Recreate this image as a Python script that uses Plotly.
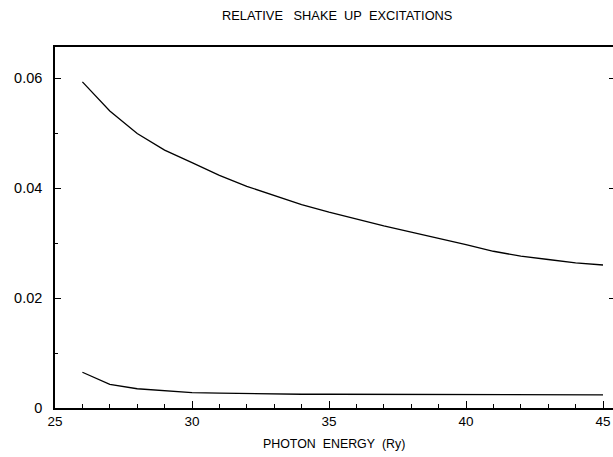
import plotly.graph_objects as go

energy = [26, 27, 28, 29, 30, 31, 32, 33, 34, 35, 36, 37, 38, 39, 40, 41, 42, 43, 44, 45]
upper = [0.0593, 0.0540, 0.0499, 0.0469, 0.0446, 0.0423, 0.0403, 0.0386, 0.0370, 0.0356,
         0.0343, 0.0331, 0.0320, 0.0309, 0.0297, 0.0285, 0.0276, 0.0270, 0.0264, 0.0260]
lower = [0.0065, 0.0043, 0.0035, 0.0031, 0.0028, 0.0027, 0.0026, 0.0026, 0.0025, 0.0025,
         0.0025, 0.0025, 0.0024, 0.0024, 0.0024, 0.0024, 0.0024, 0.0024, 0.0024, 0.0024]

title_text = "RELATIVE\u00a0\u00a0\u00a0SHAKE\u00a0\u00a0UP\u00a0\u00a0EXCITATIONS"
xtitle_text = "PHOTON\u00a0\u00a0ENERGY\u00a0\u00a0(Ry)"

W, H = 613, 457
L, T, B, R = 55, 47, 49, 0
font = "Liberation Sans, Arial, sans-serif"

fig = go.Figure()
for ys in (upper, lower):
    fig.add_trace(go.Scatter(x=energy, y=ys, mode="lines",
                             line=dict(color="black", width=1.3),
                             showlegend=False, hoverinfo="skip"))
# invisible trace for right-side tick axis
fig.add_trace(go.Scatter(x=[energy[0]], y=[upper[0]], yaxis="y2", mode="markers",
                         marker=dict(opacity=0), showlegend=False, hoverinfo="skip"))

yr = [0, 0.06564]
fig.update_layout(
    width=W, height=H,
    margin=dict(l=L, r=R, t=T, b=B, pad=0),
    paper_bgcolor="white", plot_bgcolor="white",
    font=dict(family=font, color="black", size=13),
    xaxis=dict(range=[25, 45.365], showgrid=False, zeroline=False,
               showline=True, linecolor="black", linewidth=1.5, mirror=True,
               ticks="inside", ticklen=7, tickwidth=1.3, tickcolor="black",
               tick0=25, dtick=5,
               minor=dict(dtick=1, ticks="inside", ticklen=4, tickwidth=1.2, tickcolor="black"),
               tickfont=dict(size=13.5, family=font)),
    yaxis=dict(range=yr, showgrid=False, zeroline=False,
               showline=True, linecolor="black", linewidth=1.5, mirror=False,
               ticks="inside", ticklen=6, tickwidth=1.3, tickcolor="black",
               tick0=0, dtick=0.02,
               minor=dict(dtick=0.01, ticks="inside", ticklen=3, tickwidth=1.2, tickcolor="black"),
               tickfont=dict(size=14.5, family=font), ticklabelstandoff=8),
    yaxis2=dict(range=yr, overlaying="y", side="right", showgrid=False, zeroline=False,
                showline=False, ticks="inside", ticklen=4, tickwidth=1.2, tickcolor="black",
                tick0=0, dtick=0.02, showticklabels=False),
    annotations=[
        dict(text=title_text, xref="paper", yref="paper",
             x=(337 - L) / (W - L - R), y=1 + (T - 16) / (H - T - B),
             xanchor="center", yanchor="middle", showarrow=False,
             font=dict(size=12.8, family=font)),
        dict(text=xtitle_text, xref="paper", yref="paper",
             x=(334 - L) / (W - L - R), y=-(444 - (H - B)) / (H - T - B),
             xanchor="center", yanchor="middle", showarrow=False,
             font=dict(size=12.4, family=font)),
    ],
)

fig.write_html("out.html")
